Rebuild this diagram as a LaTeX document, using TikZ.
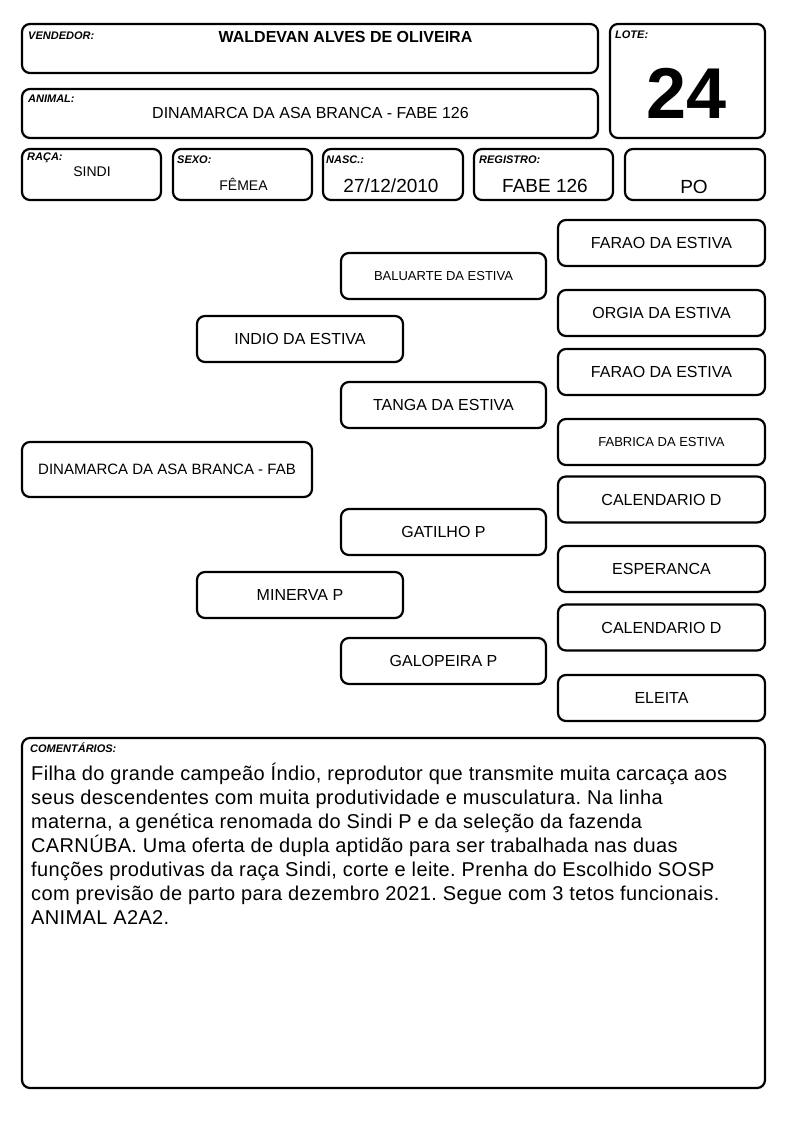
\documentclass[tikz,border=0pt]{standalone}
\usepackage{fontspec}
\setmainfont{Liberation Sans}
\newfontfamily\commentfont[LetterSpace=1.8]{Liberation Sans}
\usetikzlibrary{positioning}

\begin{document}
\frenchspacing
\begin{tikzpicture}[
    x=1pt, y=-1pt,
    infobox/.style={rectangle, rounded corners=8pt, draw=black, line width=2.2pt, inner sep=0pt},
    pedbox/.style={rectangle, rounded corners=8pt, draw=black, line width=2.2pt, inner sep=0pt, minimum width=206pt, minimum height=46pt, font=\fontsize{16}{19}\selectfont, align=center},
    pedsmall/.style={pedbox, font=\fontsize{13}{16}\selectfont},
    fieldlbl/.style={anchor=west, inner sep=0pt, font=\fontsize{11}{13}\bfseries\itshape\selectfont},
    fieldval/.style={inner sep=0pt, font=\fontsize{14}{17}\selectfont},
    fieldbig/.style={inner sep=0pt, font=\fontsize{19}{22}\selectfont},
]

\fill[white] (0,0) rectangle (794,1123);
\useasboundingbox (0,0) rectangle (794,1123);

\node[infobox, minimum width=576pt, minimum height=49pt] (vendedor) at (310,48.5) {};
\node[infobox, minimum width=576pt, minimum height=49pt] (animal) at (310,113.5) {};
\node[infobox, minimum width=155pt, minimum height=114pt] (lote) at (687.5,81) {};
\node[infobox, minimum width=139pt, minimum height=51pt] (raca) at (91.5,174.5) {};
\node[infobox, minimum width=139pt, minimum height=51pt] (sexo) at (242.5,174.5) {};
\node[infobox, minimum width=140pt, minimum height=51pt] (nasc) at (393,174.5) {};
\node[infobox, minimum width=139pt, minimum height=51pt] (registro) at (543.5,174.5) {};
\node[infobox, minimum width=140pt, minimum height=51pt] (categoria) at (695,174.5) {};

\node[fieldlbl] (vendedorlbl) at (28,36) {VENDEDOR:};
\node[fieldlbl] (animallbl) at (28,99) {ANIMAL:};
\node[fieldlbl] (lotelbl) at (615,35) {LOTE:};
\node[fieldlbl] (racalbl) at (27,158) {RAÇA:};
\node[fieldlbl] (sexolbl) at (177,160) {SEXO:};
\node[fieldlbl] (nasclbl) at (326,160) {NASC.:};
\node[fieldlbl] (registrolbl) at (479,160) {REGISTRO:};

\node[inner sep=0pt, font=\fontsize{16}{19}\bfseries\selectfont] (vendedorval) at (345.5,37) {WALDEVAN ALVES DE OLIVEIRA};
\node[inner sep=0pt, font=\fontsize{16}{19}\selectfont] (animalval) at (310.5,113) {DINAMARCA DA ASA BRANCA - FABE 126};
\node[inner sep=0pt, font=\fontsize{72}{80}\bfseries\selectfont] (loteval) at (687,93) {24};
\node[fieldval] (racaval) at (92,172) {SINDI};
\node[fieldval] (sexoval) at (243.5,184) {FÊMEA};
\node[fieldbig] (nascval) at (391,186) {27/12/2010};
\node[fieldbig] (registroval) at (545,186) {FABE 126};
\node[fieldbig] (categoriaval) at (694,187) {PO};

\node[pedbox, minimum width=290pt, minimum height=55pt, font=\fontsize{15}{18}\selectfont] (filho) at (167,469.5) {DINAMARCA DA ASA BRANCA - FAB};

\node[pedbox] (p) at (300,339) {INDIO DA ESTIVA};
\node[pedbox] (m) at (300,595) {MINERVA P};

\node[pedsmall, minimum width=205pt] (pp) at (443.5,276) {BALUARTE DA ESTIVA};
\node[pedbox, minimum width=205pt] (pm) at (443.5,405) {TANGA DA ESTIVA};
\node[pedbox, minimum width=205pt] (mp) at (443.5,532) {GATILHO P};
\node[pedbox, minimum width=205pt] (mm) at (443.5,661) {GALOPEIRA P};

\node[pedbox, minimum width=207pt] (ppp) at (661.5,243) {FARAO DA ESTIVA};
\node[pedbox, minimum width=207pt] (ppm) at (661.5,313) {ORGIA DA ESTIVA};
\node[pedbox, minimum width=207pt] (pmp) at (661.5,372) {FARAO DA ESTIVA};
\node[pedsmall, minimum width=207pt] (pmm) at (661.5,442) {FABRICA DA ESTIVA};
\node[pedbox, minimum width=207pt] (mpp) at (661.5,499.5) {CALENDARIO D};
\node[pedbox, minimum width=207pt] (mpm) at (661.5,569) {ESPERANCA};
\node[pedbox, minimum width=207pt] (mmp) at (661.5,627.5) {CALENDARIO D};
\node[pedbox, minimum width=207pt] (mmm) at (661.5,698) {ELEITA};

\node[infobox, minimum width=743pt, minimum height=350pt] (comentarios) at (393.5,913) {};
\node[fieldlbl] (comentarioslbl) at (30,748) {COMENTÁRIOS:};
\node[anchor=north west, inner sep=0pt, align=left, font=\commentfont\fontsize{20}{24}\selectfont] (comentariostxt) at (31,763) {Filha do grande campeão Índio, reprodutor que transmite muita carcaça aos\\seus descendentes com muita produtividade e musculatura. Na linha\\materna, a genética renomada do Sindi P e da seleção da fazenda\\CARNÚBA. Uma oferta de dupla aptidão para ser trabalhada nas duas\\funções produtivas da raça Sindi, corte e leite. Prenha do Escolhido SOSP\\com previsão de parto para dezembro 2021. Segue com 3 tetos funcionais.\\ANIMAL A2A2.};

\end{tikzpicture}
\end{document}
